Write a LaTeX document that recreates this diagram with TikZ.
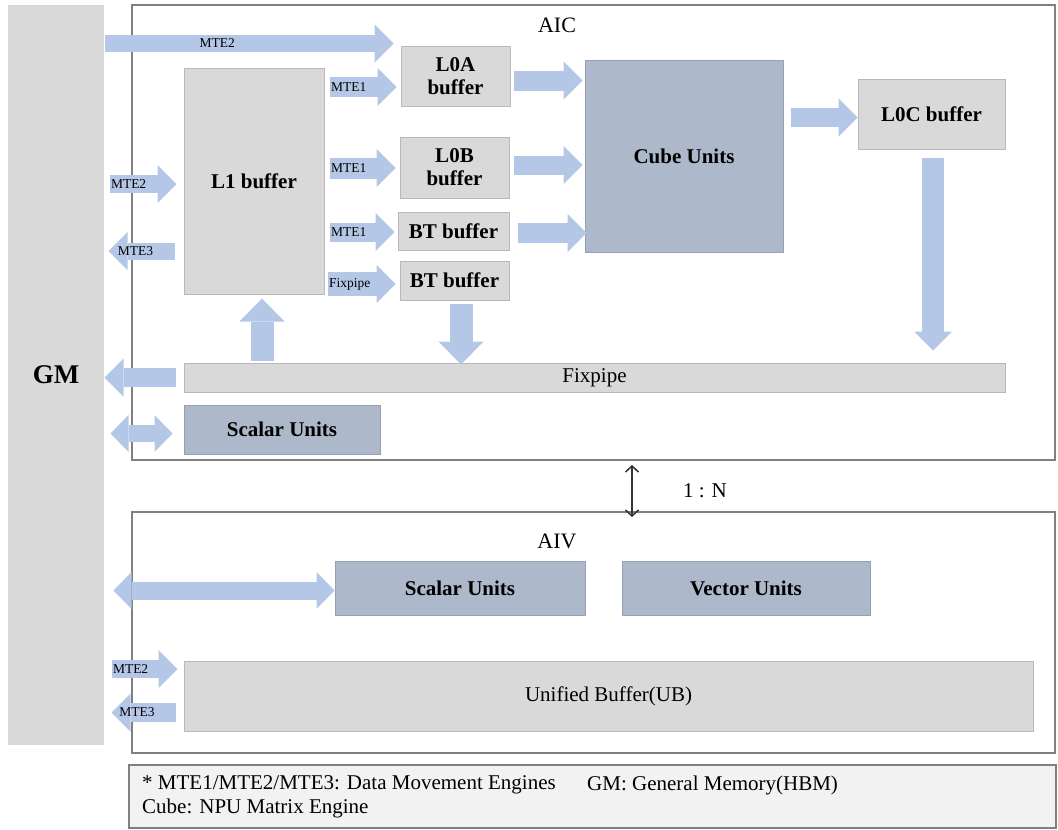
\documentclass[tikz,border=0pt]{standalone}
\usepackage{fontspec}
\setmainfont{LiberationSerif}[Extension=.ttf,UprightFont=*-Regular,BoldFont=*-Bold,
  ItalicFont=*-Italic,BoldItalicFont=*-BoldItalic]
\usetikzlibrary{arrows.meta}
\definecolor{npu_gray}{RGB}{217, 217, 217}
\definecolor{npu_line}{RGB}{185, 185, 185}
\definecolor{npu_blue}{RGB}{173, 185, 202}
\definecolor{npu_bline}{RGB}{150, 162, 180}
\definecolor{npu_arrow}{RGB}{180, 199, 231}
\definecolor{npu_frame}{RGB}{128, 128, 128}
\definecolor{npu_note}{RGB}{242, 242, 242}
\tikzstyle{buf}=[rectangle,fill=npu_gray,draw=npu_line,line width=1pt,
  inner sep=0pt,align=center,font=\bfseries\fontsize{21}{23}\selectfont]
\tikzstyle{unit}=[rectangle,fill=npu_blue,draw=npu_bline,line width=1pt,
  inner sep=0pt,align=center,font=\bfseries\fontsize{21}{23}\selectfont]
\tikzstyle{bar}=[rectangle,fill=npu_gray,draw=npu_line,line width=1pt,
  inner sep=0pt,font=\fontsize{21}{23}\selectfont]
\tikzstyle{core}=[rectangle,draw=npu_frame,line width=2pt,inner sep=0pt]
\tikzstyle{txt}=[inner sep=2pt,font=\fontsize{21}{23}\selectfont]
\tikzstyle{mte}=[inner sep=1.5pt,outer sep=0pt,font=\fontsize{13.5}{15}\selectfont]
\tikzstyle{fat}=[draw=npu_arrow,line width=19pt,
  -{Triangle[length=19pt,width=38pt,line width=0pt]}]
\tikzstyle{fatv}=[draw=npu_arrow,line width=23pt,
  -{Triangle[length=23pt,width=45pt,line width=0pt]}]
\tikzstyle{fatd}=[draw=npu_arrow,line width=18pt,
  {Triangle[length=18pt,width=37pt,line width=0pt]}-{Triangle[length=18pt,width=37pt,line width=0pt]}]
\tikzstyle{link}=[draw=black!80,line width=1.5pt,
  {Straight Barb[length=6pt,width=13pt]}-{Straight Barb[length=6pt,width=13pt]}]

\begin{document}
\begin{tikzpicture}[x=1pt,y=-1pt]
        \useasboundingbox (0,0) rectangle (1058,830);
        % frames
        \node[style=core,minimum width=923pt,minimum height=455pt] (aic) at (593.5,232.5) {};
        \node[style=core,minimum width=923pt,minimum height=241pt] (aiv) at (593.5,632.5) {};
        \node[style=bar,draw=none,minimum width=96pt,minimum height=740pt,
          font=\bfseries\fontsize{27}{30}\selectfont] (gm) at (56,375) {GM};
        \node[style=txt,font=\fontsize{22}{24}\selectfont] (aiclbl) at (557,25) {AIC};
        \node[style=txt,font=\fontsize{22}{24}\selectfont] (aivlbl) at (557,541) {AIV};
        % AIC blocks
        \node[style=buf,minimum width=140pt,minimum height=226pt] (l1) at (254,181) {L1 buffer};
        \node[style=buf,minimum width=109pt,minimum height=60pt] (l0a) at (455.5,76) {L0A\\buffer};
        \node[style=buf,minimum width=109pt,minimum height=61pt] (l0b) at (454.5,167.5) {L0B\\buffer};
        \node[style=buf,minimum width=111pt,minimum height=38pt] (bt1) at (453.5,231) {BT buffer};
        \node[style=buf,minimum width=109pt,minimum height=39pt] (bt2) at (454.5,280.5) {BT buffer};
        \node[style=unit,minimum width=198pt,minimum height=192pt] (cube) at (684,156) {Cube Units};
        \node[style=buf,minimum width=147pt,minimum height=70pt] (l0c) at (931.5,114) {L0C buffer};
        \node[style=bar,minimum width=821pt,minimum height=29pt] (fixpipe) at (594.5,377.5) {Fixpipe};
        \node[style=unit,minimum width=196pt,minimum height=49pt] (scalarc) at (282,429.5) {Scalar Units};
        % AIV blocks
        \node[style=unit,minimum width=250pt,minimum height=54pt] (scalarv) at (460,588) {Scalar Units};
        \node[style=unit,minimum width=248pt,minimum height=54pt] (vector) at (746,588) {Vector Units};
        \node[style=bar,minimum width=849pt,minimum height=70pt] (ub) at (608.5,696) {Unified Buffer(UB)};
        % data paths
        \draw[fat,line width=17pt] ([shift={(0,39)}]gm.north east) -- node[mte,pos=.39]{MTE2} ++(289,0);
        \draw[fat,line width=20pt] ([shift={(-71,11)}]l0a.west) -- node[mte,pos=0,anchor=west]{MTE1} ++(67,0);
        \draw[fat,line width=21pt] ([shift={(-70,0.5)}]l0b.west) -- node[mte,pos=0,anchor=west]{MTE1} ++(66,0);
        \draw[fat] ([shift={(-68,1)}]bt1.west) -- node[mte,pos=0,anchor=west]{MTE1} ++(65,0);
        \draw[fat,line width=24pt] ([shift={(-72,3.5)}]bt2.west) -- node[mte,pos=0,anchor=west]{Fixpipe} ++(68,0);
        \draw[fat,line width=18pt] ([shift={(-74,3)}]l1.west) -- node[mte,pos=0,anchor=west]{MTE2} ++(67,0);
        \draw[fat,line width=17pt] ([shift={(-9,70)}]l1.west) -- node[mte,pos=.59]{MTE3} ++(-66,0);
        \draw[fat,line width=20pt] ([shift={(3,4.5)}]l0a.east) -- ++(69,0);
        \draw[fat] ([shift={(4,-2.5)}]l0b.east) -- ++(69,0);
        \draw[fat,line width=20pt] ([shift={(8,2)}]bt1.east) -- ++(69,0);
        \draw[fat] ([shift={(7,-38.5)}]cube.east) -- ++(67,0);
        \draw[fat,line width=22pt] ([shift={(1.5,8)}]l0c.south) -- ++(0,193);
        \draw[fatv] ([shift={(6.5,3)}]bt2.south) -- ++(0,61);
        \draw[fatv] ([shift={(8,66)}]l1.south) -- ++(0,-62);
        \draw[fat] ([shift={(-8,0)}]fixpipe.west) -- ++(-71,0);
        \draw[fatd,line width=17pt] ([shift={(-11,4)}]scalarc.west) -- ++(-62,0);
        \draw[fatd] ([shift={(0,2.5)}]scalarv.west) -- ++(-221,0);
        \draw[fat,line width=18pt] ([shift={(-72,-27)}]ub.west) -- node[mte,pos=0,anchor=west]{MTE2} ++(66,0);
        \draw[fat] ([shift={(-8,16.5)}]ub.west) -- node[mte,pos=.6]{MTE3} ++(-64,0);
        % AIC to AIV
        \draw[link] ([xshift=38.5pt,yshift=-4pt]aic.south) -- ([xshift=38.5pt,yshift=-6pt]aiv.north);
        \node[style=txt] (ratio) at (705,491) {1 : N};
        % legend
        \node[rectangle,fill=npu_note,draw=npu_frame,line width=1.5pt,
          minimum width=927pt,minimum height=63pt] (note) at (592.5,796.5) {};
        \node[style=txt,anchor=west] (note1) at (140,785) {* MTE1/MTE2/MTE3: Data Movement Engines};
        \node[style=txt,anchor=west] (note2) at (585,785) {GM: General Memory(HBM)};
        \node[style=txt,anchor=west] (note3) at (140,808) {Cube: NPU Matrix Engine};
    \end{tikzpicture}
\end{document}
